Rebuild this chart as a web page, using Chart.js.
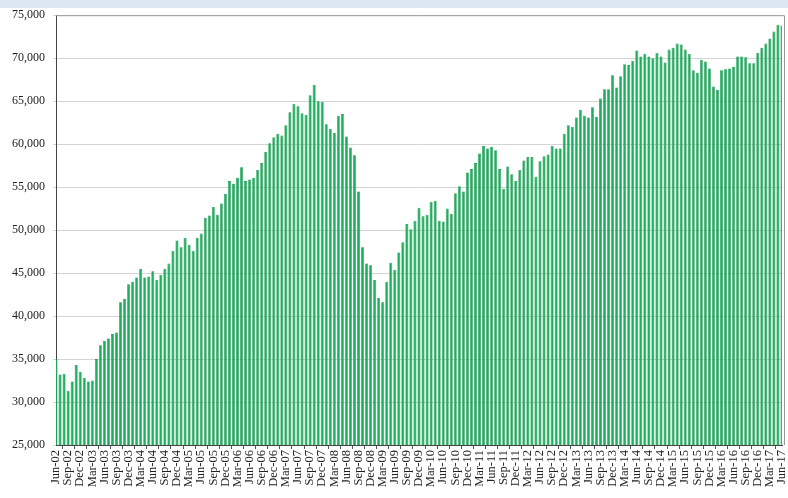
<!DOCTYPE html>
<html>
<head>
<meta charset="utf-8">
<script src="https://cdn.jsdelivr.net/npm/chart.js@4/dist/chart.umd.min.js"></script>
<style>
    body { margin: 0; background: #ffffff; }
    #band { position: absolute; left: 0; top: 0; width: 788px; height: 8px; background: #dce6f2; }
    #wrap { position: absolute; left: 0; top: 0; width: 788px; height: 498px; }
</style>
</head>
<body>
<div id="band"></div>
<div id="wrap"><canvas id="chart" width="788" height="498"></canvas></div>
<script>
let monthNames = ["Jan", "Feb", "Mar", "Apr", "May", "Jun", "Jul", "Aug", "Sep", "Oct", "Nov", "Dec"];
let firstYear = 2002;
let firstMonth = 5; // Jun
let tickEvery = 3;

// monthly values, Jun-02 .. Jun-17
let values = [
    35000, 33200, 33300, 31300, 32400, 34300, 33500, 32800, 32400, 32500,
    35000, 36600, 37100, 37400, 37900, 38100, 41600, 42000, 43700, 44000,
    44500, 45500, 44500, 44600, 45200, 44200, 44800, 45500, 46100, 47600,
    48800, 48000, 49100, 48300, 47600, 49100, 49600, 51400, 51700, 52700,
    51800, 53100, 54200, 55700, 55400, 56100, 57300, 55700, 55900, 56100,
    57000, 57800, 59100, 60100, 60800, 61200, 61000, 62200, 63700, 64700,
    64400, 63600, 63400, 65700, 66900, 65000, 64900, 62300, 61800, 61300,
    63300, 63500, 60900, 59600, 58700, 54500, 48000, 46100, 45900, 44200,
    42100, 41600, 44000, 46200, 45400, 47400, 48600, 50700, 50100, 51100,
    52600, 51600, 51800, 53300, 53400, 51100, 51000, 52500, 51900, 54300,
    55100, 54500, 56700, 57100, 57800, 58900, 59800, 59500, 59700, 59300,
    57100, 54800, 57400, 56500, 55700, 57000, 58100, 58500, 58500, 56200,
    58000, 58600, 58800, 59800, 59500, 59500, 61200, 62200, 62000, 63100,
    64000, 63300, 63100, 64300, 63200, 65300, 66400, 66400, 68000, 66600,
    67900, 69300, 69200, 69700, 70900, 70200, 70500, 70200, 70000, 70600,
    70200, 69500, 71000, 71200, 71700, 71600, 71000, 70500, 68600, 68300,
    69800, 69600, 68800, 66700, 66300, 68600, 68700, 68800, 69000, 70200,
    70200, 70100, 69400, 69400, 70600, 71200, 71700, 72300, 73100, 73900,
    73800
];

let labels = values.map((v, i) => {
    let m = firstMonth + i;
    let y = firstYear + Math.floor(m / 12);
    return monthNames[m % 12] + "-" + String(y % 100).padStart(2, "0");
});

let frame = {
    id: "frame",
    afterDraw(chart) {
        let a = chart.chartArea;
        let ctx = chart.ctx;
        ctx.save();
        ctx.strokeStyle = "#9a9a9a";
        ctx.lineWidth = 1;
        ctx.beginPath();
        ctx.moveTo(a.left, a.top + 0.5);
        ctx.lineTo(a.right + 2.5, a.top + 0.5);
        ctx.lineTo(a.right + 2.5, a.bottom);
        ctx.stroke();
        ctx.restore();
    }
};

let context = document.getElementById("chart").getContext("2d");
let chart = new Chart(context, {
    type: "bar",
    data: {
        labels: labels,
        datasets: [{
            data: values,
            backgroundColor: "#1fae5e",
            borderColor: "#12904a",
            borderWidth: 0.6,
            barPercentage: 0.74,
            categoryPercentage: 1
        }]
    },
    options: {
        responsive: false,
        animation: false,
        layout: { padding: { top: 15, right: 6, left: 0, bottom: 0 } },
        plugins: {
            legend: { display: false },
            tooltip: { enabled: false }
        },
        scales: {
            x: {
                offset: false,
                afterBuildTicks: axis => {
                    axis.ticks = axis.ticks.filter(t => t.value % tickEvery === 0);
                },
                afterFit: axis => {
                    axis.height = 53;
                    axis.paddingLeft = 0;
                    axis.paddingRight = 0;
                },
                grid: { display: true, drawOnChartArea: false, tickLength: 4, color: "#555555" },
                border: { display: true, color: "#444444" },
                ticks: {
                    autoSkip: false,
                    maxRotation: 90,
                    minRotation: 90,
                    padding: 1,
                    color: "#222222",
                    font: { family: "'Liberation Serif', 'DejaVu Serif', serif", size: 12.5 }
                }
            },
            y: {
                min: 25000,
                max: 75000,
                afterFit: axis => { axis.width = 56; },
                grid: { color: "#d4d4d4", tickLength: 3 },
                border: { display: true, color: "#444444" },
                ticks: {
                    stepSize: 5000,
                    padding: 8,
                    color: "#222222",
                    font: { family: "'Liberation Serif', 'DejaVu Serif', serif", size: 12 },
                    callback: v => v.toLocaleString("en-US")
                }
            }
        }
    },
    plugins: [frame]
});
</script>
</body>
</html>
